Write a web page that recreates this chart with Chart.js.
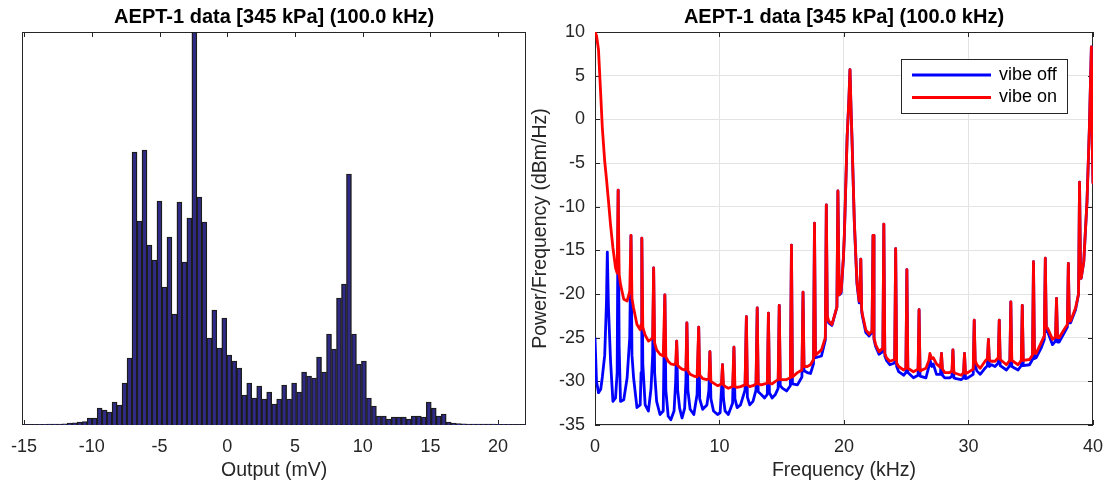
<!DOCTYPE html>
<html>
<head>
<meta charset="utf-8">
<title>AEPT-1 data</title>
<script src="https://cdn.jsdelivr.net/npm/chart.js@4.4.1/dist/chart.umd.min.js"></script>
<style>
  html, body { margin: 0; padding: 0; background: #fff; }
  #wrap { position: relative; width: 1114px; height: 487px; overflow: hidden; }
  #histChart { position: absolute; left: 0; top: 0; }
  #psdChart { position: absolute; left: 528px; top: 0; }
</style>
</head>
<body>
<div id="wrap">
  <canvas id="histChart" width="540" height="487"></canvas>
  <canvas id="psdChart" width="586" height="487"></canvas>
</div>
<script>
var FONT = "'Liberation Sans', Arial, Helvetica, sans-serif";
var TEXT = '#262626';
var titleText = 'AEPT-1 data [345 kPa] (100.0 kHz)';

// histogram of the output voltage (mV), 101 equal bins
var binStart = -15.13;
var binWidth = 0.3682;
var binCounts = [
    0.5, 0.5, 0.5, 0.6, 0.7, 0.8, 1, 1, 1.2, 1.8,
    2.2, 3, 3.5, 7, 7, 17, 15, 13, 23, 20,
    42, 67, 273, 204, 275, 180, 165, 224, 138, 188,
    111, 223, 163, 207, 393, 228, 203, 87, 115, 77,
    107, 70, 64, 57, 30, 42, 27, 39, 26, 33,
    21, 26, 40, 26, 42, 33, 53, 49, 47, 68,
    53, 91, 76, 127, 141, 251, 91, 61, 64, 27,
    19, 9, 9, 6, 8, 8, 8, 6, 9, 9,
    8, 23, 17, 9, 11, 3, 2, 1.5, 1.2, 1,
    1, 1, 0.9, 0.8, 0.8, 0.7, 0.6, 0.6, 0.5, 0.5,
    0.5
];
var histTicks = [-15, -10, -5, 0, 5, 10, 15, 20];

// power spectral density (dBm/Hz) against frequency (kHz)
var freqKHz = [
    0.00, 0.12, 0.28, 0.46, 0.59, 0.78, 0.92, 0.99, 1.08, 1.25,
    1.44, 1.65, 1.78, 1.86, 1.94, 2.05, 2.31, 2.58, 2.79, 2.89,
    2.97, 3.10, 3.37, 3.63, 3.70, 3.76, 3.84, 4.03, 4.29, 4.50,
    4.63, 4.71, 4.79, 4.95, 5.22, 5.48, 5.61, 5.69, 5.88, 6.09,
    6.35, 6.48, 6.56, 6.64, 6.80, 6.99, 7.20, 7.30, 7.38, 7.46,
    7.64, 7.94, 8.20, 8.33, 8.41, 8.65, 8.99, 9.15, 9.23, 9.31,
    9.52, 9.84, 10.05, 10.16, 10.24, 10.32, 10.45, 10.71, 11.05, 11.16,
    11.24, 11.42, 11.69, 12.05, 12.16, 12.24, 12.43, 12.69, 12.93, 13.03,
    13.11, 13.35, 13.62, 13.84, 13.93, 14.01, 14.22, 14.49, 14.71, 14.80,
    14.88, 15.07, 15.39, 15.69, 15.78, 15.86, 16.26, 16.62, 16.71, 16.79,
    17.05, 17.31, 17.55, 17.63, 17.71, 18.19, 18.50, 18.58, 18.66, 18.77,
    19.03, 19.43, 19.51, 19.61, 19.77, 19.95, 20.03, 20.25, 20.40, 20.48,
    20.56, 20.64, 20.83, 21.04, 21.22, 21.28, 21.35, 21.42, 21.49, 21.75,
    22.02, 22.25, 22.33, 22.41, 22.54, 22.81, 23.12, 23.20, 23.28, 23.41,
    23.68, 24.07, 24.15, 24.23, 24.39, 24.79, 24.97, 25.05, 25.13, 25.58,
    25.95, 26.03, 26.11, 26.58, 26.82, 26.90, 27.05, 27.17, 27.43, 27.75,
    27.83, 27.91, 28.09, 28.49, 28.67, 28.75, 28.83, 29.01, 29.41, 29.60,
    29.68, 29.76, 29.94, 30.38, 30.46, 30.54, 30.67, 30.94, 31.33, 31.52,
    31.60, 31.68, 31.86, 32.13, 32.39, 32.47, 32.55, 33.05, 33.32, 33.40,
    33.48, 33.98, 34.24, 34.32, 34.40, 34.90, 35.14, 35.22, 35.30, 35.43,
    35.83, 36.09, 36.17, 36.25, 36.35, 36.75, 36.99, 37.07, 37.15, 37.28,
    37.67, 37.94, 38.02, 38.10, 38.20, 38.60, 38.84, 38.92, 39.00, 39.05,
    39.26, 39.52, 39.71, 39.87, 39.95, 40.00
];
var psdOff = [
    -25.0, -30.0, -31.3, -30.9, -29.5, -27.0, -21.0, -15.2, -21.5, -27.7,
    -32.3, -31.9, -29.0, -8.1, -26.0, -32.3, -32.1, -29.6, -25.0, -13.3,
    -27.0, -29.6, -33.0, -32.7, -29.0, -13.6, -28.0, -32.7, -33.4, -30.8,
    -27.0, -17.0, -29.0, -32.3, -33.8, -33.4, -20.1, -31.0, -34.0, -34.4,
    -33.4, -30.0, -25.4, -31.0, -33.1, -34.2, -33.1, -30.0, -23.3, -31.0,
    -33.2, -33.8, -31.5, -23.8, -32.0, -33.2, -32.7, -31.0, -26.6, -32.0,
    -33.4, -33.8, -33.6, -31.0, -28.1, -32.0, -33.4, -33.8, -32.5, -26.1,
    -32.0, -33.0, -32.7, -31.0, -22.6, -31.8, -32.7, -32.3, -31.0, -21.6,
    -31.2, -31.5, -31.9, -31.5, -22.2, -31.3, -31.9, -31.5, -30.8, -21.3,
    -30.5, -30.8, -31.1, -30.5, -14.4, -30.3, -30.4, -29.5, -19.8, -28.8,
    -29.0, -29.1, -28.0, -11.9, -27.3, -27.1, -25.3, -9.8, -22.8, -23.3,
    -23.6, -21.5, -8.2, -20.1, -19.9, -16.0, -13.3, -2.1, 2.5, 5.7,
    1.5, -2.1, -11.8, -18.8, -21.0, -19.5, -16.0, -22.0, -22.6, -24.4,
    -24.8, -24.4, -13.3, -25.2, -26.0, -26.9, -26.6, -12.0, -27.1, -27.6,
    -28.1, -27.9, -14.8, -28.3, -28.9, -29.3, -29.0, -17.2, -29.0, -29.6,
    -29.3, -21.8, -29.4, -29.6, -28.3, -27.5, -28.3, -28.0, -29.2, -29.2,
    -26.8, -29.3, -29.6, -29.6, -29.4, -26.4, -29.6, -29.7, -29.8, -29.6,
    -26.8, -29.7, -29.6, -29.2, -23.0, -28.2, -28.8, -29.2, -28.5, -28.2,
    -25.2, -28.3, -28.1, -28.3, -27.9, -23.0, -28.2, -28.7, -28.2, -20.9,
    -28.3, -28.7, -28.2, -21.3, -28.2, -28.1, -27.5, -16.3, -27.4, -27.3,
    -26.2, -25.2, -15.9, -24.3, -24.3, -25.8, -25.4, -20.5, -25.5, -25.5,
    -24.5, -23.8, -16.5, -23.3, -23.3, -21.8, -20.0, -7.2, -17.5, -18.2,
    -16.3, -9.4, -1.0, 8.3, -3.5, -7.3
];
var psdOn = [
    10.0, 9.6, 8.0, 2.8, -1.0, -4.8, -6.8, -7.9, -9.3, -12.1,
    -14.7, -17.0, -17.6, -8.1, -17.8, -18.9, -20.6, -20.8, -19.7, -13.3,
    -20.5, -21.6, -23.5, -24.1, -23.5, -13.6, -23.8, -24.7, -25.4, -25.2,
    -25.0, -17.0, -25.6, -26.4, -26.9, -27.1, -20.1, -27.2, -27.7, -28.0,
    -28.1, -27.9, -25.4, -28.2, -28.4, -28.6, -28.7, -28.5, -23.3, -28.8,
    -29.2, -29.4, -29.5, -23.8, -29.3, -29.7, -29.8, -29.7, -26.6, -30.0,
    -30.2, -30.5, -30.4, -30.2, -28.1, -30.4, -30.6, -30.8, -30.6, -26.1,
    -30.6, -30.7, -30.6, -30.4, -22.6, -30.4, -30.6, -30.5, -30.3, -21.6,
    -30.3, -30.4, -30.3, -30.2, -22.2, -30.2, -30.3, -30.0, -29.8, -21.3,
    -29.8, -29.8, -29.8, -29.6, -14.4, -29.5, -29.0, -28.7, -19.8, -28.3,
    -28.3, -28.1, -27.5, -11.9, -27.0, -26.4, -25.0, -9.8, -22.5, -23.1,
    -23.5, -21.5, -8.2, -20.1, -19.7, -15.9, -13.2, -2.1, 2.5, 5.7,
    1.5, -2.1, -11.7, -18.6, -20.8, -19.5, -16.0, -21.8, -22.4, -24.1,
    -24.6, -24.2, -13.3, -25.0, -25.8, -26.6, -26.2, -12.0, -26.8, -27.3,
    -27.7, -27.5, -14.8, -27.9, -28.3, -28.7, -28.5, -17.2, -28.5, -28.9,
    -28.6, -21.8, -28.8, -28.5, -27.6, -26.8, -27.4, -27.3, -28.0, -28.4,
    -26.8, -28.6, -29.0, -29.0, -28.8, -26.4, -29.0, -29.1, -29.3, -29.0,
    -26.8, -29.1, -29.0, -28.6, -23.0, -27.6, -28.1, -28.5, -27.7, -27.4,
    -25.2, -27.6, -27.7, -27.7, -27.3, -23.0, -27.5, -28.1, -27.6, -20.9,
    -27.6, -28.1, -27.6, -21.3, -27.6, -27.5, -27.0, -16.3, -26.8, -26.8,
    -25.6, -24.8, -15.9, -23.9, -23.9, -25.2, -24.9, -20.5, -25.0, -25.0,
    -24.1, -23.5, -16.5, -23.1, -23.1, -21.6, -20.0, -7.2, -17.5, -18.2,
    -16.3, -9.4, -1.0, 8.3, -3.5, -7.3
];
var psdXTicks = [0, 10, 20, 30, 40];
var psdYTicks = [-35, -30, -25, -20, -15, -10, -5, 0, 5, 10];

// MATLAB style box round the axes with inward tick marks
var axesBox = {
    id: 'axesBox',
    beforeDatasetsDraw: function(chart, args, opts) {
        var ctx = chart.ctx;
        var a = chart.chartArea;
        var len = 5;
        ctx.save();
        ctx.strokeStyle = TEXT;
        ctx.lineWidth = 1;
        ctx.beginPath();
        chart.scales.x.ticks.forEach(function(t) {
            var px = Math.round(chart.scales.x.getPixelForValue(t.value)) + 0.5;
            ctx.moveTo(px, a.top);
            ctx.lineTo(px, a.top + len);
            ctx.moveTo(px, a.bottom);
            ctx.lineTo(px, a.bottom - len);
        });
        if (opts.yTicks) {
            chart.scales.y.ticks.forEach(function(t) {
                var py = Math.round(chart.scales.y.getPixelForValue(t.value)) + 0.5;
                ctx.moveTo(a.left, py);
                ctx.lineTo(a.left + len, py);
                ctx.moveTo(a.right, py);
                ctx.lineTo(a.right - len, py);
            });
        }
        ctx.stroke();
        ctx.strokeRect(Math.round(a.left) + 0.5, Math.round(a.top) + 0.5,
            Math.round(a.right - a.left) - 1, Math.round(a.bottom - a.top) - 1);
        ctx.restore();
    }
};

// legend in a box in the upper right corner of the plot
var boxLegend = {
    id: 'boxLegend',
    afterDraw: function(chart) {
        var ctx = chart.ctx;
        var a = chart.chartArea;
        var w = 166, h = 54;
        var left = Math.round(a.right - 26 - w);
        var top = Math.round(a.top + 27);
        var rows = [16, 38.5];
        ctx.save();
        ctx.fillStyle = '#ffffff';
        ctx.fillRect(left, top, w, h);
        ctx.strokeStyle = TEXT;
        ctx.lineWidth = 1;
        ctx.strokeRect(left + 0.5, top + 0.5, w, h);
        ctx.font = '18px ' + FONT;
        ctx.textBaseline = 'middle';
        chart.data.datasets.forEach(function(ds, i) {
            var y = top + rows[i];
            ctx.strokeStyle = ds.borderColor;
            ctx.lineWidth = ds.borderWidth;
            ctx.beginPath();
            ctx.moveTo(left + 11, y);
            ctx.lineTo(left + 90, y);
            ctx.stroke();
            ctx.fillStyle = '#000000';
            ctx.fillText(ds.label, left + 98, y);
        });
        ctx.restore();
    }
};

function tickFont() {
    return { family: FONT, size: 18 };
}

function titleOpts() {
    return {
        display: true,
        text: titleText,
        fullSize: false,
        color: '#000000',
        font: { family: FONT, size: 20, weight: 'bold' },
        padding: { top: 5, bottom: 3 }
    };
}

document.addEventListener('DOMContentLoaded', function() {
    var histCtx = document.getElementById('histChart').getContext('2d');
    new Chart(histCtx, {
        type: 'bar',
        data: {
            datasets: [{
                label: 'Output',
                data: binCounts.map(function(c, i) {
                    return { x: binStart + (i + 0.5) * binWidth, y: c };
                }),
                backgroundColor: '#2e2a85',
                borderColor: '#1c1c1c',
                borderWidth: 1.4,
                borderSkipped: 'start',
                barPercentage: 1,
                categoryPercentage: 1
            }]
        },
        options: {
            responsive: false,
            animation: false,
            events: [],
            layout: { padding: { left: 20, right: 14, top: 0, bottom: 0 } },
            plugins: {
                legend: { display: false },
                tooltip: { enabled: false },
                title: titleOpts(),
                axesBox: { yTicks: false }
            },
            scales: {
                x: {
                    type: 'linear',
                    min: binStart,
                    max: binStart + binWidth * binCounts.length,
                    offset: false,
                    grid: { display: false, drawTicks: false, offset: false },
                    border: { display: false },
                    ticks: { color: TEXT, font: tickFont(), padding: 11, includeBounds: false, maxRotation: 0 },
                    afterBuildTicks: function(scale) {
                        scale.ticks = histTicks.map(function(v) { return { value: v }; });
                    },
                    afterFit: function(scale) { scale.height = 62; },
                    title: {
                        display: true, text: 'Output (mV)', color: TEXT,
                        font: { family: FONT, size: 19.5 }, padding: { top: 0, bottom: 4.5 }
                    }
                },
                y: { display: false, min: 0, max: 393 }
            }
        },
        plugins: [axesBox]
    });

    var psdCtx = document.getElementById('psdChart').getContext('2d');
    new Chart(psdCtx, {
        type: 'line',
        data: {
            datasets: [{
                label: 'vibe off',
                data: freqKHz.map(function(f, i) { return { x: f, y: psdOff[i] }; }),
                borderColor: '#0000ff',
                borderWidth: 2.8,
                borderJoinStyle: 'round',
                pointRadius: 0,
                fill: false,
                order: 1
            }, {
                label: 'vibe on',
                data: freqKHz.map(function(f, i) { return { x: f, y: psdOn[i] }; }),
                borderColor: '#ff0000',
                borderWidth: 2.8,
                borderJoinStyle: 'round',
                pointRadius: 0,
                fill: false,
                order: 0
            }]
        },
        options: {
            responsive: false,
            animation: false,
            events: [],
            layout: { padding: { left: 0, right: 14, top: 0, bottom: 0 } },
            plugins: {
                legend: { display: false },
                tooltip: { enabled: false },
                title: titleOpts(),
                axesBox: { yTicks: true }
            },
            scales: {
                x: {
                    type: 'linear',
                    min: 0,
                    max: 40,
                    grid: { color: '#e3e3e3', drawTicks: false },
                    border: { display: false },
                    ticks: { color: TEXT, font: tickFont(), padding: 11, maxRotation: 0 },
                    afterBuildTicks: function(scale) {
                        scale.ticks = psdXTicks.map(function(v) { return { value: v }; });
                    },
                    afterFit: function(scale) { scale.height = 62; },
                    title: {
                        display: true, text: 'Frequency (kHz)', color: TEXT,
                        font: { family: FONT, size: 19.5 }, padding: { top: 0, bottom: 4.5 }
                    }
                },
                y: {
                    type: 'linear',
                    min: -35,
                    max: 10,
                    grid: { color: '#e3e3e3', drawTicks: false },
                    border: { display: false },
                    ticks: { color: TEXT, font: tickFont(), padding: 10 },
                    afterBuildTicks: function(scale) {
                        scale.ticks = psdYTicks.map(function(v) { return { value: v }; });
                    },
                    afterFit: function(scale) { scale.width = 67; },
                    title: {
                        display: true, text: 'Power/Frequency (dBm/Hz)', color: TEXT,
                        font: { family: FONT, size: 19.5 }, padding: { top: 1.3, bottom: 0 }
                    }
                }
            }
        },
        plugins: [axesBox, boxLegend]
    });
});
</script>
</body>
</html>
